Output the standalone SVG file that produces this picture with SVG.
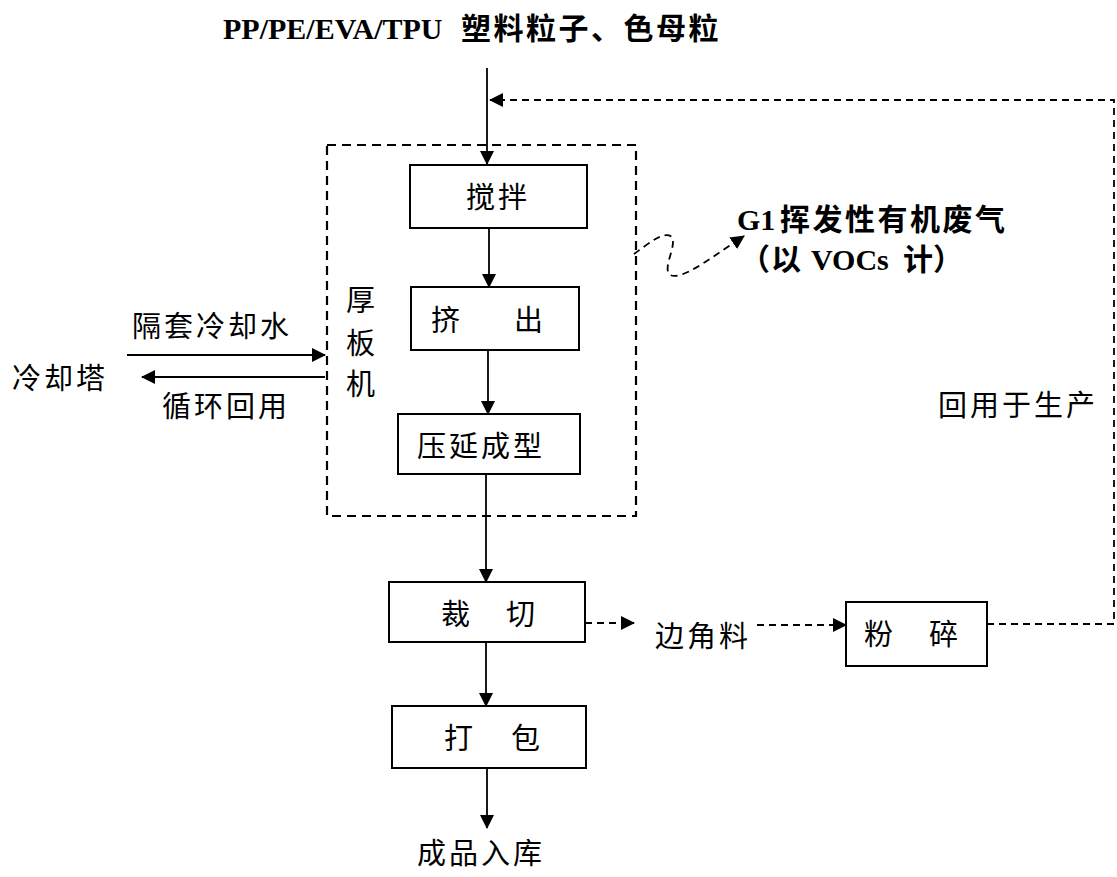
<svg xmlns="http://www.w3.org/2000/svg" width="1117" height="877" viewBox="0 0 1117 877">
<defs>
<style>
.t{font-family:"Noto Sans CJK SC","Liberation Serif",sans-serif;font-size:29px;letter-spacing:3px;fill:#000}
.b{font-family:"Liberation Serif","Noto Sans CJK SC",serif;font-size:30px;font-weight:bold;fill:#000}
.bc{font-family:"Noto Sans CJK SC",sans-serif;letter-spacing:2.5px}
.box{fill:#fff;stroke:#000;stroke-width:2}
.ln{fill:none;stroke:#000;stroke-width:1.8}
.dl{fill:none;stroke:#000;stroke-width:1.8;stroke-dasharray:7 5}
.frame{fill:none;stroke:#000;stroke-width:2.2;stroke-dasharray:9 6}
</style>
<marker id="ah" viewBox="0 0 14 14" markerWidth="14" markerHeight="14" refX="13" refY="7" orient="auto" markerUnits="userSpaceOnUse">
<path d="M0,0 L14,7 L0,14 z" fill="#000"/>
</marker>
</defs>
<rect width="1117" height="877" fill="#fff"/>

<g id="title">
<text class="b" x="223" y="39">PP/PE/EVA/TPU<tspan class="bc" x="461">塑料粒子、色母粒</tspan></text>
</g>

<g id="machine">
<rect class="frame" x="327" y="145" width="309" height="371"/>
<text class="t" x="346" y="311">厚</text>
<text class="t" x="346" y="354">板</text>
<text class="t" x="346" y="395">机</text>
</g>

<g id="connectors">
<path class="ln" d="M487,68 V164" marker-end="url(#ah)"/>
<path class="ln" d="M489,228 V287" marker-end="url(#ah)"/>
<path class="ln" d="M488,350 V414" marker-end="url(#ah)"/>
<path class="ln" d="M486,474 V582" marker-end="url(#ah)"/>
<path class="ln" d="M486,642 V706" marker-end="url(#ah)"/>
<path class="ln" d="M487,768 V828" marker-end="url(#ah)"/>
<path class="ln" d="M127,355 H325" marker-end="url(#ah)"/>
<path class="ln" d="M325,377 H142" marker-end="url(#ah)"/>
<path class="dl" d="M585,623 H634" marker-end="url(#ah)"/>
<path class="dl" d="M757,625 H846" marker-end="url(#ah)"/>
<path class="dl" d="M987,624 H1114 V100 H490" marker-end="url(#ah)"/>
<path class="dl" d="M634,254 C648,244 664,230 672,237 C677,246 662,268 670,275 C682,280 705,262 744,236" marker-end="url(#ah)"/>
</g>

<g id="stir">
<rect class="box" x="410" y="165" width="177" height="63"/>
<text class="t" x="466" y="208">搅拌</text>
</g>

<g id="extrude">
<rect class="box" x="411" y="287" width="168" height="63"/>
<text class="t" x="431" y="331">挤<tspan x="514">出</tspan></text>
</g>

<g id="calender">
<rect class="box" x="398" y="414" width="182" height="60"/>
<text class="t" x="417" y="457">压延成型</text>
</g>

<g id="cut">
<rect class="box" x="389" y="582" width="196" height="60"/>
<text class="t" x="441" y="625">裁<tspan x="506">切</tspan></text>
</g>

<g id="pack">
<rect class="box" x="392" y="706" width="194" height="62"/>
<text class="t" x="444" y="749">打<tspan x="511">包</tspan></text>
</g>

<g id="crush">
<rect class="box" x="846" y="602" width="141" height="64"/>
<text class="t" x="864" y="645">粉<tspan x="929">碎</tspan></text>
</g>

<g id="labels">
<text class="t" x="655" y="647">边角料</text>
<text class="t" x="417" y="864">成品入库</text>
<text class="t" x="938" y="416">回用于生产</text>
<text class="t" x="132" y="337">隔套冷却水</text>
<text class="t" x="162" y="417">循环回用</text>
<text class="t" x="12" y="389">冷却塔</text>
</g>

<g id="voc">
<text class="b" x="737" y="230">G1<tspan class="bc" x="780">挥发性有机废气</tspan></text>
<text class="b" y="270"><tspan class="bc" x="740">（</tspan><tspan class="bc" x="771">以</tspan><tspan x="811">VOCs</tspan><tspan class="bc" x="903">计</tspan><tspan class="bc" x="933">）</tspan></text>
</g>
</svg>
